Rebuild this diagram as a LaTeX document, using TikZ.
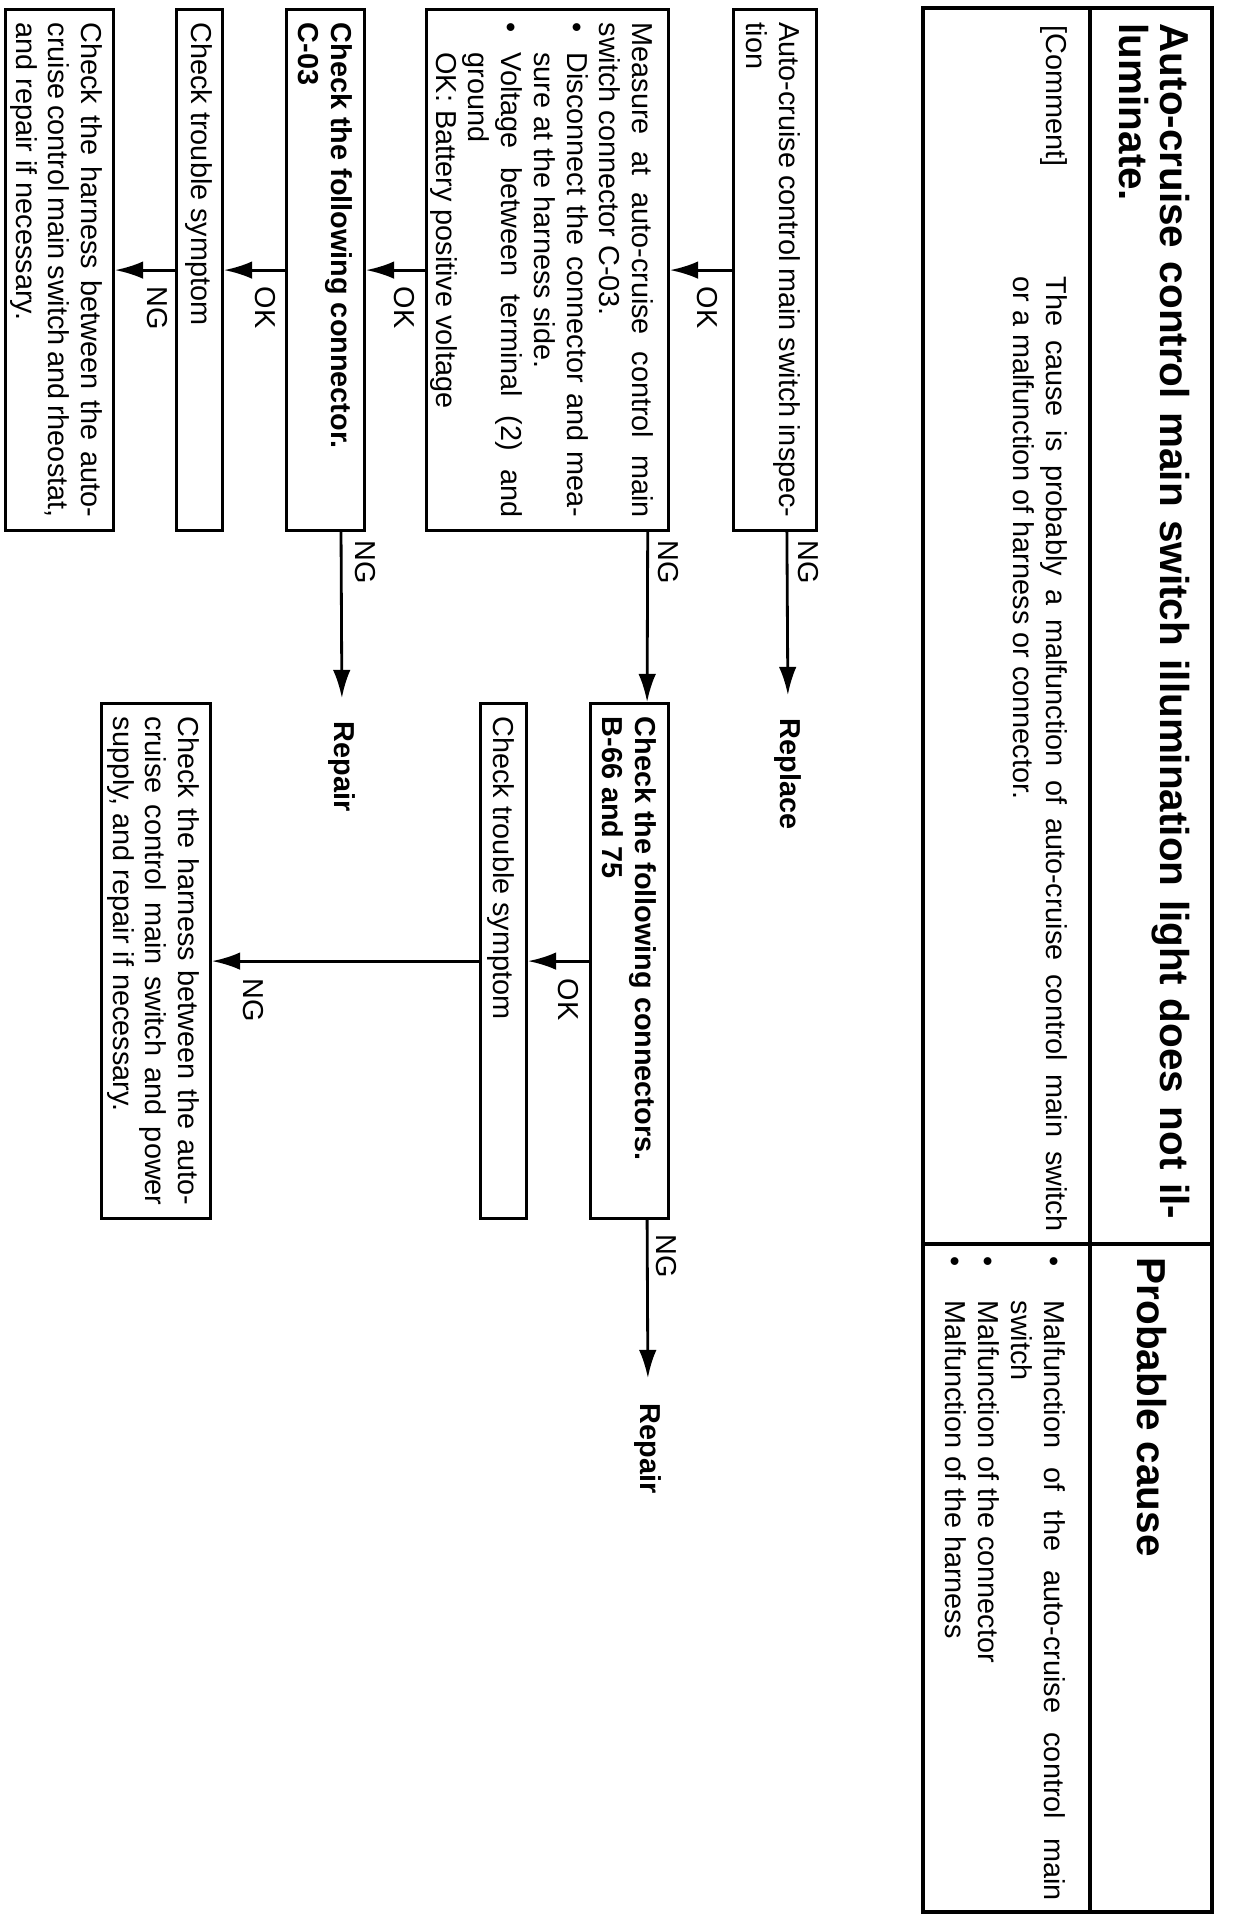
\documentclass[tikz,border=0pt]{standalone}
\usepackage{fontspec}
\setmainfont{Liberation Sans}
\usetikzlibrary{arrows.meta,calc}
\newcommand\bodyf{\fontsize{8.2pt}{9.3pt}\selectfont}
\newcommand\boxf{\fontsize{8.2pt}{9.3pt}\selectfont\spaceskip=0.278em plus 0.4em minus 0.14em\relax}
\newcommand\titf{\fontsize{11.5pt}{11.4pt}\selectfont\bfseries}
\tikzset{
  fbox/.style={draw,line width=0.9pt,anchor=north west,inner xsep=0.13cm,inner ysep=0pt,align=justify,font=\boxf},
  arr/.style={line width=0.8pt,-{Latex[length=8pt,width=5pt]}},
  lbl/.style={anchor=base west,inner sep=0pt,font=\bodyf},
  blbl/.style={anchor=west,inner sep=0pt,font=\bodyf\bfseries},
  tline/.style={line width=0.9pt},
  tframe/.style={line width=1.4pt},
}
\newcommand\flowbox[8][]{%
  \pgfmathsetmacro\fbw{(#5-#3)*0.01-0.26}%
  \pgfmathsetmacro\fbth{#7*0.01}%
  \pgfmathsetmacro\fbtd{(#6-#4-#7)*0.01}%
  \node[fbox,text width=\fbw cm,text height=\fbth cm,text depth=\fbtd cm,#1] (#2) at (#3,#6) {#8};%
}
\begin{document}
\begin{tikzpicture}[x=0.01cm,y=0.01cm]
\useasboundingbox (0,0) rectangle (1232,-1924);
\fill[white] (0,0) rectangle (1232,-1924);
\begin{scope}[rotate=-90,transform shape]
% ---- table ----
\draw[tframe] (8,923) rectangle (1912,1212);
\draw[tline] (8,1090) -- (1912,1090);
\draw[tline] (1244,923) -- (1244,1212);
\node[anchor=base west,inner sep=0pt,text width=12cm,align=left,font=\titf] (title) at (23,1160)
  {Auto-cruise control main switch illumination light does not il-\\luminate.};
\node[anchor=base west,inner sep=0pt,font=\titf] (pc) at (1257,1137) {Probable cause};
\node[lbl] (cm) at (25,1046) {[Comment]};
\node[lbl,text width=9.54cm,align=justify] (cmt) at (276,1046)
  {The cause is probably a malfunction of auto-cruise control main switch\linebreak or a malfunction of harness or connector.};
\node[lbl,text width=6.44cm,align=justify] (causes) at (1256,1044)
  {\hangindent=12.5pt\makebox[12.5pt][l]{•}Malfunction of the auto-cruise control main\linebreak switch\par
   \hangindent=12.5pt\makebox[12.5pt][l]{•}Malfunction of the connector\par
   \hangindent=12.5pt\makebox[12.5pt][l]{•}Malfunction of the harness};
% ---- flow boxes ----
\flowbox{B1}{8}{735}{529}{818}{37}{Auto-cruise control main switch inspec-\linebreak tion}
\flowbox{B2}{8}{428}{529}{670}{36}{Measure at auto-cruise control main\linebreak switch connector C-03.\par
  \hangindent=8.5pt\makebox[8.5pt][l]{•}Disconnect the connector and mea-\linebreak sure at the harness side.\par
  \hangindent=8.5pt\makebox[8.5pt][l]{•}Voltage between terminal (2) and\linebreak ground\par
  \hspace*{8.5pt}OK: Battery positive voltage}
\flowbox{B3}{8}{288}{529}{366}{33}{\bfseries Check the following connector.\\C-03}
\flowbox{B4}{8}{178}{529}{224}{31}{Check trouble symptom}
\flowbox{B5}{8}{7}{529}{115}{32}{Check the harness between the auto-\linebreak cruise control main switch and rheostat,\linebreak and repair if necessary.}
\flowbox{B6}{702}{592}{1217}{670}{33}{\bfseries Check the following connectors.\\B-66 and 75}
\flowbox{B7}{702}{482}{1217}{528}{33}{Check trouble symptom}
\flowbox{B8}{702}{103}{1217}{212}{32}{Check the harness between the auto-\linebreak cruise control main switch and power\linebreak supply, and repair if necessary.}
% ---- end nodes ----
\node[blbl] (rep1) at (718,788) {Replace};
\node[blbl] (rep2) at (721,342) {Repair};
\node[blbl] (rep3) at (1403,648) {Repair};
% ---- connectors ----
\draw[arr] (B1.south) -- (B2.north);
\draw[arr] (B2.south) -- (B3.north);
\draw[arr] (B3.south) -- (B4.north);
\draw[arr] (B4.south) -- (B5.north);
\draw[arr] (B6.south) -- (B7.north);
\draw[arr] (B7.south) -- (B8.north);
\draw[arr,shorten >=0.23cm] ($(B1.south east)!0.639!(B1.north east)$) -- (rep1.west);
\draw[arr] ($(B2.south east)!0.9091!(B2.north east)$) -- ($(B6.south west)!0.7179!(B6.north west)$);
\draw[arr,shorten >=0.23cm] ($(B3.south east)!0.6923!(B3.north east)$) -- (rep2.west);
\draw[arr,shorten >=0.25cm] ($(B6.south east)!0.7179!(B6.north east)$) -- (rep3.west);
% ---- labels ----
\node[lbl] (ok1) at (286,697) {OK};
\node[lbl] (ok2) at (286,394) {OK};
\node[lbl] (ok3) at (286,255) {OK};
\node[lbl] (ng4) at (286,147) {NG};
\node[lbl] (ok5) at (978,558) {OK};
\node[lbl] (ng6) at (978,243) {NG};
\node[lbl] (ng1) at (540,798) {NG};
\node[lbl] (ng2) at (540,658) {NG};
\node[lbl] (ng3) at (540,355) {NG};
\node[lbl] (ng5) at (1234,656) {NG};
\end{scope}
\end{tikzpicture}
\end{document}
